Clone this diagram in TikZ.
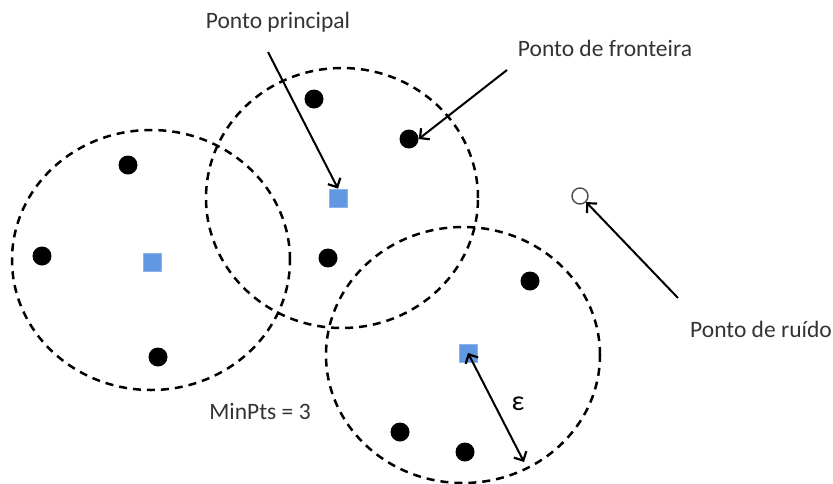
\documentclass[tikz,border=0pt]{standalone}
\usepackage{fontspec}
\setmainfont{Carlito}
\usetikzlibrary{shapes.geometric,arrows.meta}
\definecolor{coreblue}{RGB}{98,152,226}
\definecolor{coreedge}{RGB}{140,180,235}
\begin{document}
\begin{tikzpicture}[x=1pt,y=-1pt,
        cluster/.style={draw,ellipse,line width=2.5pt,dash pattern=on 8pt off 6pt},
        dot/.style={circle,fill=black,inner sep=0pt,minimum size=19pt},
        noise/.style={circle,draw=black!70,fill=white,line width=1.4pt,inner sep=0pt,minimum size=16pt},
        core/.style={rectangle,fill=coreblue,draw=coreedge,line width=.8pt,inner sep=0pt,minimum size=18pt},
        lbl/.style={font=\fontsize{23.5}{27}\selectfont,text=black!80},
        barb/.tip={Straight Barb[length=7pt,width=14pt,line width=2.2pt]},
        pointer/.style={-barb,line width=2pt}]
    \useasboundingbox (0,0) rectangle (833,483);
    % eps-neighbourhoods
    \node [cluster,minimum width=278pt,minimum height=260pt] (c1) at (151,260) {};
    \node [cluster,minimum width=272pt,minimum height=260pt] (c2) at (342,198) {};
    \node [cluster,minimum width=274pt,minimum height=256pt] (c3) at (463,355) {};
    % core points
    \node [core] (q1) at (152,262) {};
    \node [core] (q2) at (338,198) {};
    \node [core] (q3) at (468,353) {};
    % other points
    \node [dot] (p1) at (128,165) {};
    \node [dot] (p2) at (42,256) {};
    \node [dot] (p3) at (158,357) {};
    \node [dot] (p4) at (314,99) {};
    \node [dot] (p5) at (409,139) {};
    \node [dot] (p6) at (328,258) {};
    \node [dot] (p7) at (530,281) {};
    \node [dot] (p8) at (400,432) {};
    \node [dot] (p9) at (465,452) {};
    \node [noise] (n1) at (580,196) {};
    % labels
    \node [lbl] (lcore) at (278,22) {Ponto principal};
    \node [lbl] (lborder) at (605,48) {Ponto de fronteira};
    \node [lbl] (lnoise) at (761,329) {Ponto de ruído};
    \node [lbl] (lmin) at (260,411) {MinPts = 3};
    \node [lbl,font=\fontsize{28}{30}\selectfont,text=black] (leps) at (518,404) {ε};
    % pointers
    \coordinate (s1) at (268,52);
    \coordinate (s2) at (507,70);
    \coordinate (s3) at (678,298);
    \coordinate (r3) at (524,462);
    \draw [pointer] (s1) -- (q2.north);
    \draw [pointer] (s2) -- (p5.east);
    \draw [pointer] (s3) -- (n1.south east);
    \draw [pointer,barb-barb] (q3.center) -- (r3);
\end{tikzpicture}
\end{document}
